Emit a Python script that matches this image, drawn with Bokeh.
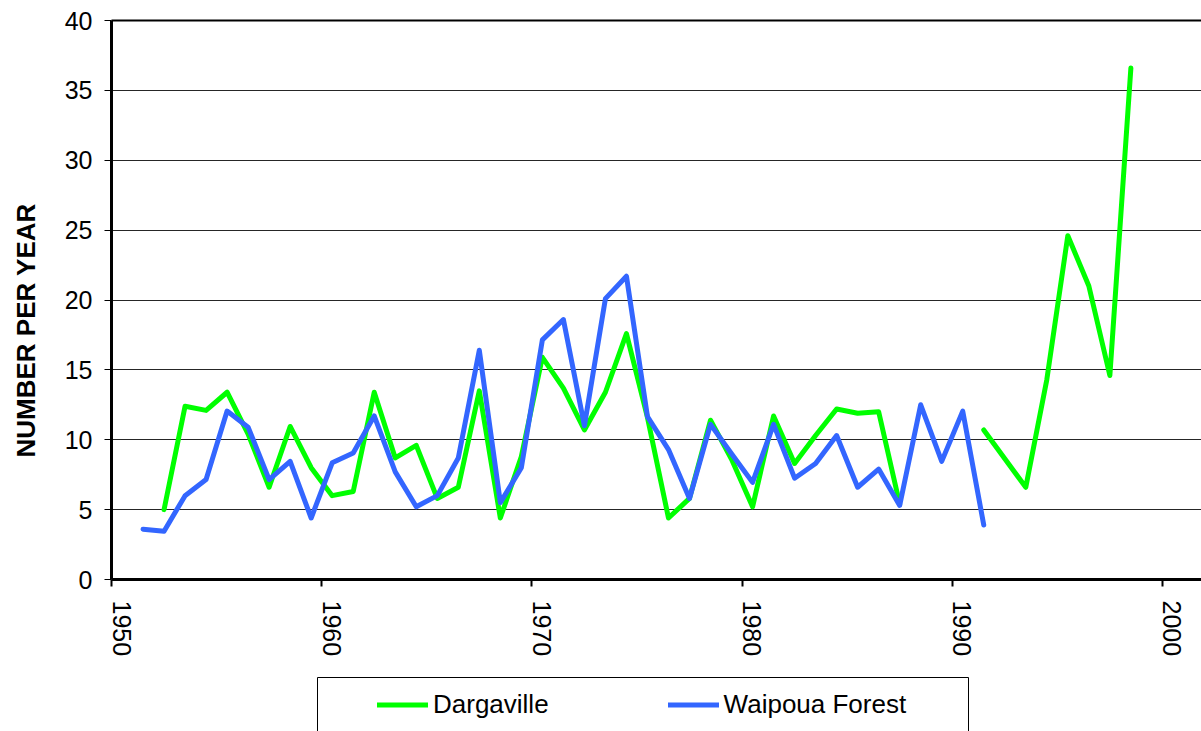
import math
from bokeh.plotting import figure
from bokeh.layouts import column
from bokeh.models import (Legend, LinearAxis, FixedTicker, Range1d, Title,
                          CustomJSTickFormatter)
from bokeh.embed import file_html
from bokeh.resources import INLINE

# ---- data ----
dargaville_years = [1952, 1953, 1954, 1955, 1956, 1957, 1958, 1959, 1960, 1961,
                    1962, 1963, 1964, 1965, 1966, 1967, 1968, 1969, 1970, 1971,
                    1972, 1973, 1974, 1975, 1976, 1977, 1978, 1979, 1980, 1981,
                    1982, 1983, 1984, 1985, 1986, 1987, 1988,
                    1991, 1993, 1994, 1995, 1996, 1997, 1998]
dargaville_values = [5.0, 12.4, 12.1, 13.4, 10.4, 6.6, 10.95, 8.0, 6.0, 6.3,
                     13.4, 8.7, 9.6, 5.8, 6.6, 13.5, 4.4, 8.8, 15.9, 13.7,
                     10.7, 13.4, 17.6, 11.6, 4.4, 5.8, 11.4, 8.6, 5.2, 11.7,
                     8.3, 10.3, 12.2, 11.9, 12.0, 5.4, float("nan"),
                     10.7, 6.6, 14.3, 24.6, 21.0, 14.6, 36.6]

waipoua_years = list(range(1951, 1992))
waipoua_values = [3.6, 3.45, 6.0, 7.15, 12.05, 10.9, 7.15, 8.45, 4.4, 8.35,
                  9.05, 11.7, 7.7, 5.2, 6.0, 8.7, 16.4, 5.5, 8.0, 17.15,
                  18.6, 11.0, 20.1, 21.7, 11.65, 9.3, 5.8, 11.1, 9.0, 6.95,
                  11.1, 7.25, 8.3, 10.3, 6.6, 7.9, 5.3, 12.5, 8.45, 12.05,
                  3.9]

series_names = ["Dargaville", "Waipoua Forest"]
x_ticks = [1950, 1960, 1970, 1980, 1990, 2000]
y_ticks = [0, 5, 10, 15, 20, 25, 30, 35, 40]
y_title = "NUMBER PER YEAR"

FONT = "Liberation Sans"
GREEN = "#00FF00"
BLUE = "#3366FF"
X_START, X_END = 1950, 2001.86
LABEL_SHIFT = 0.48   # rotated year labels sit just right of their tick

# years are categories; each value sits at the centre of its year
dx = [y + 0.5 for y in dargaville_years]
wx = [y + 0.5 for y in waipoua_years]

p = figure(width=1201, height=660, output_backend="svg", toolbar_location=None,
           x_range=Range1d(X_START, X_END), y_range=Range1d(0, 40),
           min_border_left=111, min_border_right=0, min_border_top=20,
           min_border_bottom=81, background_fill_color="white",
           border_fill_color="white", outline_line_color=None,
           frame_align=False)

r1 = p.line(dx, dargaville_values, line_color=GREEN, line_width=5,
            line_join="round", line_cap="round")
r2 = p.line(wx, waipoua_values, line_color=BLUE, line_width=5,
            line_join="round", line_cap="round")

# grid
p.xgrid.grid_line_color = None
p.ygrid.ticker = FixedTicker(ticks=y_ticks)
p.ygrid.grid_line_color = "black"
p.ygrid.grid_line_width = 1
p.ygrid.grid_line_alpha = 0.85

# x axis (line + ticks)
xa = p.xaxis[0]
xa.ticker = FixedTicker(ticks=x_ticks)
xa.formatter = CustomJSTickFormatter(code="return ''")
xa.major_label_standoff = 0
xa.major_tick_in = 0
xa.major_tick_out = 7
xa.major_tick_line_width = 2
xa.minor_tick_line_color = None
xa.axis_line_width = 3
xa.axis_line_color = "black"

# x tick labels (rotated, read downward)
p.extra_x_ranges = {"labels": Range1d(X_START - LABEL_SHIFT, X_END - LABEL_SHIFT)}
xl = LinearAxis(x_range_name="labels", ticker=FixedTicker(ticks=x_ticks),
                axis_line_color=None, major_tick_line_color=None,
                major_tick_in=0, major_tick_out=0, minor_tick_line_color=None,
                major_label_orientation=-math.pi / 2,
                major_label_text_font=FONT, major_label_text_font_size="25px",
                major_label_text_color="black", major_label_standoff=14)
p.add_layout(xl, "below")

# y axis
ya = p.yaxis[0]
ya.ticker = FixedTicker(ticks=y_ticks)
ya.major_label_text_font = FONT
ya.major_label_text_font_size = "25px"
ya.major_label_text_color = "black"
ya.major_label_standoff = 12
ya.major_tick_in = 0
ya.major_tick_out = 7
ya.major_tick_line_width = 1
ya.minor_tick_line_color = None
ya.axis_line_width = 3
ya.axis_line_color = "black"

# gap between the tick labels and the y title (white, unlabelled)
gap = LinearAxis(ticker=FixedTicker(ticks=[0]),
                 formatter=CustomJSTickFormatter(code="return ''"),
                 axis_line_color=None, major_tick_line_color="white",
                 minor_tick_line_color=None, major_tick_in=0,
                 major_tick_out=9, major_label_standoff=0)
p.add_layout(gap, "left")

# y axis title
p.add_layout(Title(text=y_title, align="left", offset=122, standoff=20,
                   vertical_align="top",
                   text_font=FONT, text_font_style="bold",
                   text_font_size="26px", text_color="black"), "left")

# top border of the plot area
top = LinearAxis(ticker=FixedTicker(ticks=[]), major_label_text_font_size="0px",
                 major_tick_line_color=None, minor_tick_line_color=None,
                 major_tick_out=0, major_tick_in=0,
                 axis_line_width=2, axis_line_color="black")
p.add_layout(top, "above")

# ---- legend strip below the chart ----
lg = figure(width=1201, height=71, output_backend="svg", toolbar_location=None,
            x_range=Range1d(X_START, X_END), y_range=Range1d(0, 40),
            x_axis_location=None, y_axis_location=None,
            min_border_left=317, min_border_right=233, min_border_top=17,
            min_border_bottom=0, outline_line_color=None,
            background_fill_color="white", border_fill_color="white",
            frame_align=False)
lg.grid.visible = False
g1 = lg.line(dx, dargaville_values, line_color=GREEN, line_width=5,
             line_cap="round", visible=False)
g2 = lg.line(wx, waipoua_values, line_color=BLUE, line_width=5,
             line_cap="round", visible=False)
for side in ["left", "right", "above"]:
    lg.add_layout(LinearAxis(ticker=FixedTicker(ticks=[]),
                             major_label_text_font_size="0px",
                             major_tick_line_color=None,
                             minor_tick_line_color=None,
                             major_tick_out=0, major_tick_in=0,
                             major_label_standoff=0,
                             axis_line_width=1, axis_line_color="black"), side)

legend = Legend(items=[(series_names[0], [g1]), (series_names[1], [g2])],
                orientation="horizontal", location="left", margin=60,
                label_text_font=FONT, label_text_font_size="26px",
                label_text_color="black",
                glyph_width=51, glyph_height=20, label_standoff=5,
                spacing=119, padding=12, inactive_fill_alpha=0.0,
                border_line_color=None, background_fill_alpha=0.0)
lg.add_layout(legend, "center")

layout = column(p, lg, spacing=0)
open("out.html", "w").write(file_html(layout, INLINE))
